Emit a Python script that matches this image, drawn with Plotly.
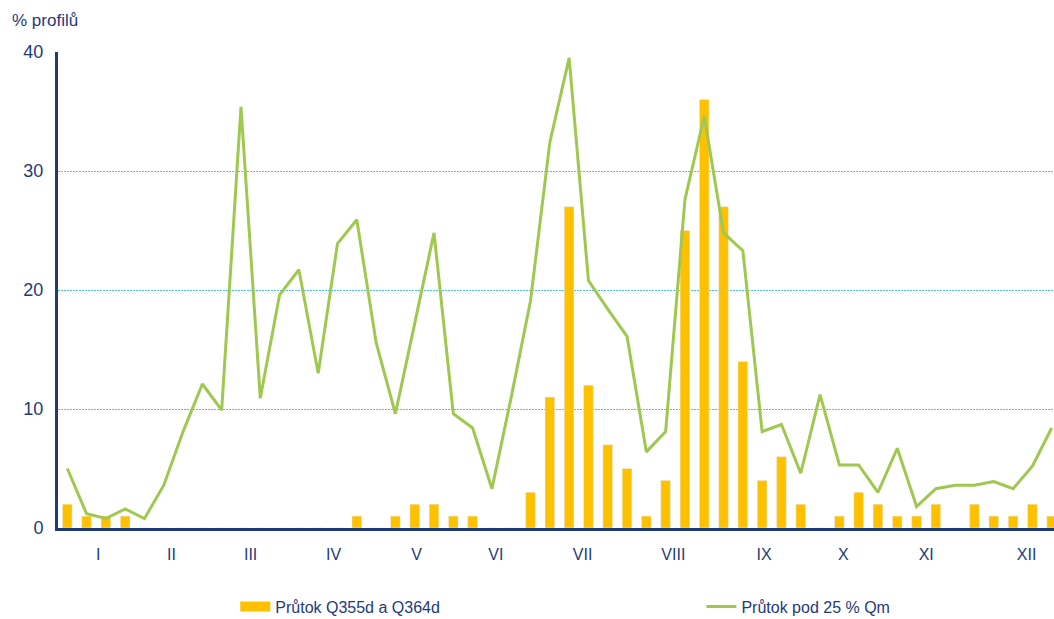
import plotly.graph_objects as go

# ---------------------------------------------------------------------
# Data - weekly share of profiles (52 weeks)
# ---------------------------------------------------------------------
weeks = list(range(52))

q355_q364 = [2, 1, 1, 1, 0, 0, 0, 0, 0, 0,
             0, 0, 0, 0, 0, 1, 0, 1, 2, 2,
             1, 1, 0, 0, 3, 11, 27, 12, 7, 5,
             1, 4, 25, 36, 27, 14, 4, 6, 2, 0,
             1, 3, 2, 1, 1, 2, 0, 2, 1, 1,
             2, 1]

pod_25_qm = [5.0, 1.2, 0.8, 1.6, 0.8, 3.6, 8.1, 12.1, 9.9, 35.4,
             10.9, 19.6, 21.7, 13.0, 23.9, 25.9, 15.6, 9.6, 17.2, 24.8,
             9.6, 8.4, 3.3, 11.0, 19.1, 32.4, 39.5, 20.8, 18.4, 16.1,
             6.4, 8.1, 27.6, 34.6, 24.8, 23.3, 8.1, 8.7, 4.6, 11.2,
             5.3, 5.3, 3.0, 6.7, 1.8, 3.3, 3.6, 3.6, 3.9, 3.3,
             5.2, 8.4]

month_labels = ["I", "II", "III", "IV", "V", "VI",
                "VII", "VIII", "IX", "X", "XI", "XII"]
month_ticks = [1.6, 5.4, 9.5, 13.8, 18.1, 22.2, 26.7, 31.4, 36.1, 40.2, 44.5, 49.7]

NAVY = "#1F3A78"
BAR_COLOR = "#FFC000"
LINE_COLOR = "#A0C850"
GRID_COLOR = "#4FBFEA"
FONT = "Liberation Sans, Arial, sans-serif"
LEGEND_FONT = "Liberation Sans Narrow, Arial Narrow, Liberation Sans, sans-serif"

# ---------------------------------------------------------------------
# Figure
# ---------------------------------------------------------------------
fig = go.Figure()
fig.add_trace(go.Bar(x=weeks, y=q355_q364, name="Průtok Q355d a Q364d",
                     marker_color=BAR_COLOR, width=0.5, showlegend=False))
# legend-only entry so the swatch is a wide block like in the original
fig.add_trace(go.Scatter(x=[None], y=[None], name="Průtok Q355d a Q364d",
                         mode="lines", line=dict(color=BAR_COLOR, width=10),
                         legend="legend"))
fig.add_trace(go.Scatter(x=weeks, y=pod_25_qm, name="Průtok pod 25 % Qm",
                         mode="lines", line=dict(color=LINE_COLOR, width=3),
                         legend="legend2"))

fig.update_xaxes(range=[-0.48, 51.12], tickvals=month_ticks, ticktext=month_labels,
                 showgrid=False, zeroline=False, showline=True, linecolor=NAVY,
                 linewidth=3, ticks="", ticklabelstandoff=10, automargin=False,
                 tickfont=dict(size=16, color=NAVY, family=FONT))
fig.update_yaxes(range=[0, 40], tickvals=[0, 10, 20, 30, 40],
                 showgrid=True, gridcolor=GRID_COLOR, griddash="2px,1px", gridwidth=1,
                 zeroline=False, showline=True, linecolor=NAVY, linewidth=3,
                 ticks="", ticklabelstandoff=8, automargin=False,
                 tickfont=dict(size=18, color=NAVY, family=FONT))

fig.add_annotation(text="% profilů", xref="paper", yref="paper",
                   x=-0.048, y=1.067, xanchor="left", yanchor="middle",
                   showarrow=False, font=dict(size=17, color=NAVY, family=FONT))

legend_common = dict(orientation="h", yanchor="middle", y=-0.165, xanchor="left",
                     bgcolor="rgba(0,0,0,0)",
                     font=dict(size=16, color=NAVY, family=LEGEND_FONT))

fig.update_layout(
    width=1054, height=619,
    margin=dict(l=58, r=0, t=52, b=91, autoexpand=False),
    plot_bgcolor="white", paper_bgcolor="white",
    legend=dict(x=0.178, **legend_common),
    legend2=dict(x=0.646, **legend_common),
)

# drop the default page margin so the figure fills the window
fig.write_html("out.html", config={"displayModeBar": False},
               post_script="document.body.style.margin='0';")
